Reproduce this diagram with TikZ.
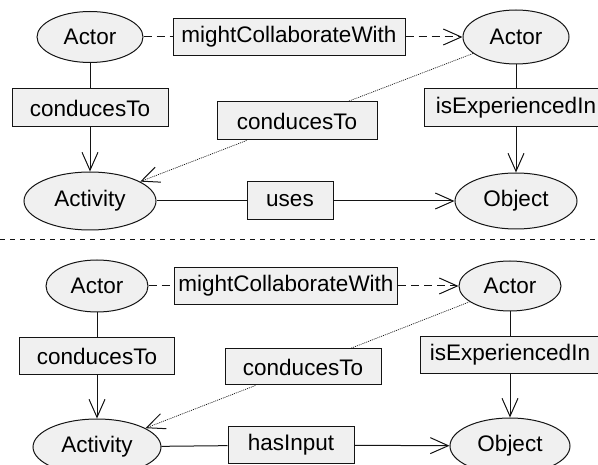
\documentclass[tikz,border=0pt]{standalone}
\usepackage{fontspec}
\setmainfont{Liberation Sans}
\usetikzlibrary{shapes.geometric,arrows.meta}
\definecolor{boxfill}{RGB}{240,240,240}
\definecolor{linecol}{RGB}{20,20,20}
\tikzset{
  ell/.style={ellipse,draw=linecol,fill=boxfill,line width=1pt,inner sep=0pt,
    font=\fontsize{22.5}{26}\selectfont},
  rel/.style={rectangle,draw=linecol,fill=boxfill,line width=1pt,inner sep=0pt,
    font=\fontsize{22.5}{26}\selectfont},
  conn/.style={draw=linecol,line width=1pt},
  tip/.style={-{Straight Barb[length=18pt,width=16pt,line width=1pt]}},
  dashconn/.style={conn,dash pattern=on 8pt off 5pt},
  dotconn/.style={conn,line width=0.7pt,dash pattern=on 1pt off 1pt},
}
\begin{document}
\begin{tikzpicture}[x=1pt,y=-1pt]
\useasboundingbox (0,0) rectangle (598,465);
% ---------- top ----------
\node[ell,minimum width=106pt,minimum height=51pt] (A1) at (90,37) {Actor};
\node[rel,minimum width=232pt,minimum height=37pt] (MC1) at (289,37) {mightCollaborateWith};
\node[ell,minimum width=106pt,minimum height=54pt] (A2) at (516,37) {Actor};
\node[rel,minimum width=156pt,minimum height=38pt] (CT1) at (90,108) {conducesTo};
\node[rel,minimum width=160pt,minimum height=38pt] (CTm1) at (297,121) {conducesTo};
\node[rel,minimum width=184pt,minimum height=38pt] (IE1) at (516,108) {isExperiencedIn};
\node[ell,minimum width=132pt,minimum height=58pt] (Act1) at (90,201) {Activity};
\node[rel,minimum width=86pt,minimum height=38pt] (U1) at (290,201) {uses};
\node[ell,minimum width=122pt,minimum height=56pt] (O1) at (516,201) {Object};
\draw[dashconn] (A1) -- (MC1);
\draw[dashconn,tip] (MC1) -- (A2);
\draw[conn] (A1) -- (CT1);
\draw[conn,tip] (CT1) -- (Act1);
\draw[dotconn] (A2) -- (CTm1);
\draw[dotconn,tip] (CTm1) -- (Act1);
\draw[conn] (A2) -- (IE1);
\draw[conn,tip] (IE1) -- (O1);
\draw[conn] (Act1) -- (U1);
\draw[conn,tip] (U1) -- (O1);
% ---------- separator ----------
\coordinate (sL) at (0,240);
\coordinate (sR) at (598,240);
\draw[linecol,line width=1pt,dash pattern=on 5pt off 5pt] (sL) -- (sR);
% ---------- bottom ----------
\node[ell,minimum width=102pt,minimum height=52pt] (A3) at (97,286) {Actor};
\node[rel,minimum width=223pt,minimum height=37pt] (MC2) at (286,286) {mightCollaborateWith};
\node[ell,minimum width=102pt,minimum height=50pt] (A4) at (510,286) {Actor};
\node[rel,minimum width=155pt,minimum height=37pt] (CT2) at (97,356) {conducesTo};
\node[rel,minimum width=156pt,minimum height=36pt] (CTm2) at (303,367) {conducesTo};
\node[rel,minimum width=180pt,minimum height=37pt] (IE2) at (510,355) {isExperiencedIn};
\node[ell,minimum width=128pt,minimum height=56pt] (Act2) at (97,447) {Activity};
\node[rel,minimum width=126pt,minimum height=37pt] (HI) at (291,445) {hasInput};
\node[ell,minimum width=120pt,minimum height=56pt] (O2) at (510,446) {Object};
\draw[dashconn] (A3) -- (MC2);
\draw[dashconn,tip] (MC2) -- (A4);
\draw[conn] (A3) -- (CT2);
\draw[conn,tip] (CT2) -- (Act2);
\draw[dotconn] (A4) -- (CTm2);
\draw[dotconn,tip] (CTm2) -- (Act2);
\draw[conn] (A4) -- (IE2);
\draw[conn,tip] (IE2) -- (O2);
\draw[conn] (Act2) -- (HI);
\draw[conn,tip] (HI) -- (O2);
\end{tikzpicture}
\end{document}
